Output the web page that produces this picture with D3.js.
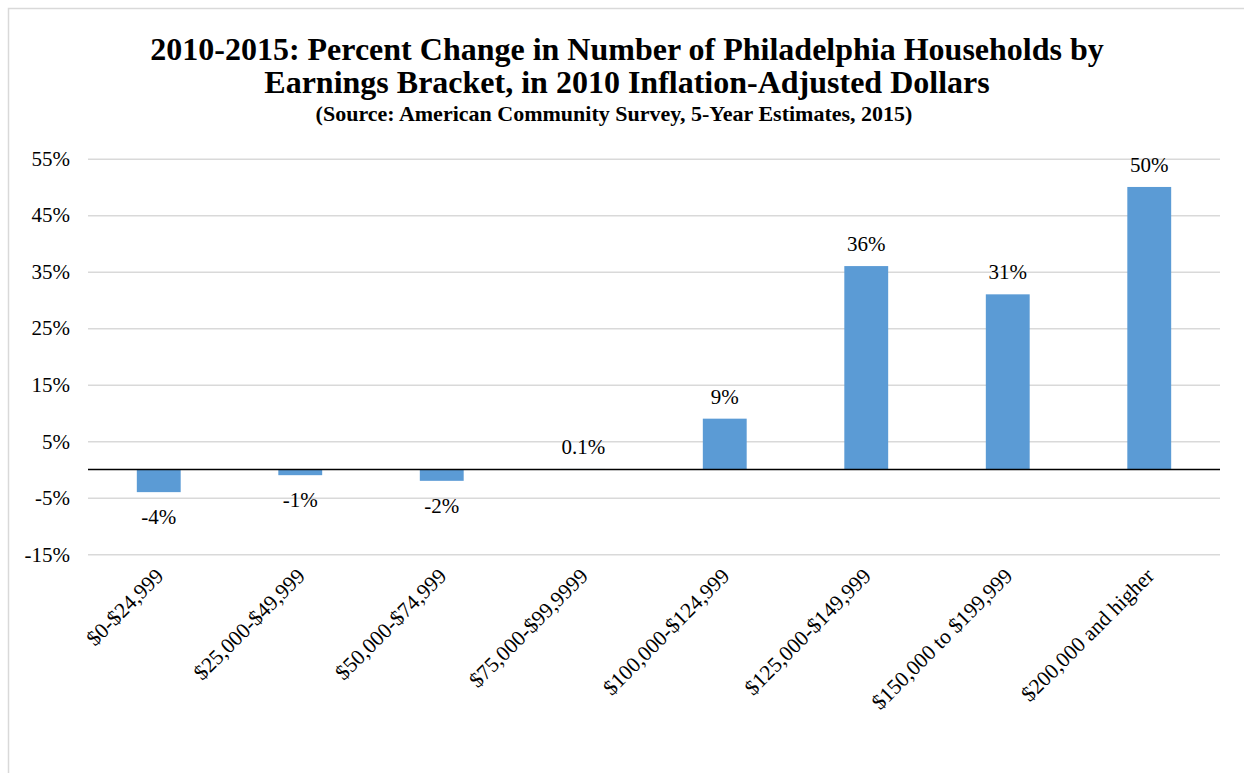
<!DOCTYPE html>
<html>
<head>
<meta charset="utf-8">
<script src="https://cdn.jsdelivr.net/npm/d3@7/dist/d3.min.js"></script>
<style>
  html, body { margin: 0; padding: 0; background: #fff; }
  svg text { font-family: "Liberation Serif", "Times New Roman", serif; fill: #000; }
</style>
</head>
<body>
<svg id="chart" width="1244" height="773"></svg>
<script>
// Income brackets and percent change in household counts, 2010-2015
const categories = [
  "$0-$24,999", "$25,000-$49,999", "$50,000-$74,999", "$75,000-$99,9999",
  "$100,000-$124,999", "$125,000-$149,999", "$150,000 to $199,999", "$200,000 and higher"
];
const values = [-4, -1, -2, 0.1, 9, 36, 31, 50];
const valueLabels = ["-4%", "-1%", "-2%", "0.1%", "9%", "36%", "31%", "50%"];
const yTicks = [-15, -5, 5, 15, 25, 35, 45, 55];
const titleLines = [
  "2010-2015: Percent Change in Number of Philadelphia Households by",
  "Earnings Bracket, in 2010 Inflation-Adjusted Dollars"
];
const subtitle = "(Source: American Community Survey, 5-Year Estimates, 2015)";

const svg = d3.select("#chart");
const W = 1244, H = 773;
const margin = { left: 88, right: 24 };
const plotW = W - margin.left - margin.right;
const FONT = '"Liberation Serif", "Times New Roman", serif';

// chart area frame
svg.append("rect")
  .attr("x", 8.5).attr("y", 8.5)
  .attr("width", W + 20).attr("height", H + 20)
  .attr("fill", "none").attr("stroke", "#d9d9d9").attr("stroke-width", 1.5);

const x = d3.scaleBand()
  .domain(categories)
  .range([margin.left, margin.left + plotW])
  .paddingInner(0.69).paddingOuter(0.345);

const y = d3.scaleLinear()
  .domain([-15, 55])
  .range([554.3, 158.7]);

// horizontal gridlines
const grid = svg.append("g")
  .attr("transform", `translate(${margin.left},0)`)
  .call(d3.axisLeft(y).tickValues(yTicks).tickSize(-plotW).tickFormat(""));
grid.select(".domain").remove();
grid.selectAll(".tick line").attr("stroke", "#d9d9d9").attr("stroke-width", 1.5);

// y-axis labels
const yAxis = svg.append("g")
  .attr("transform", `translate(${margin.left},0)`)
  .call(d3.axisLeft(y).tickValues(yTicks).tickSize(0).tickPadding(18).tickFormat(d => d + "%"));
yAxis.select(".domain").remove();
yAxis.selectAll("text")
  .attr("font-size", 21)
  .style("font-family", FONT);

// bars
svg.append("g").selectAll("rect")
  .data(values)
  .join("rect")
  .attr("x", (d, i) => x(categories[i]))
  .attr("width", x.bandwidth())
  .attr("y", d => y(Math.max(0, d)))
  .attr("height", d => Math.abs(y(d) - y(0)))
  .attr("fill", "#5b9bd5");

// zero line
svg.append("line")
  .attr("x1", margin.left).attr("x2", margin.left + plotW)
  .attr("y1", y(0)).attr("y2", y(0))
  .attr("stroke", "#000").attr("stroke-width", 1.5);

// value labels: above positive bars, below negative ones
svg.append("g").selectAll("text")
  .data(values)
  .join("text")
  .attr("x", (d, i) => x(categories[i]) + x.bandwidth() / 2)
  .attr("y", d => d >= 0 ? y(d) - 15 : y(d) + 32)
  .attr("text-anchor", "middle")
  .attr("font-size", 21)
  .text((d, i) => valueLabels[i]);

// x-axis labels, rotated
const xAxis = svg.append("g")
  .attr("transform", `translate(0,${y(-15)})`)
  .call(d3.axisBottom(x).tickSize(0).tickPadding(0));
xAxis.select(".domain").remove();
xAxis.selectAll("text")
  .attr("font-size", 21.5)
  .style("font-family", FONT)
  .attr("text-anchor", "end")
  .attr("dy", 0)
  .attr("transform", "translate(6,23) rotate(-45)");

// title
svg.append("g").selectAll("text")
  .data(titleLines)
  .join("text")
  .attr("x", 627)
  .attr("y", (d, i) => 60 + i * 33)
  .attr("text-anchor", "middle")
  .attr("font-size", 32)
  .attr("font-weight", "bold")
  .text(d => d);

svg.append("text")
  .attr("x", 614).attr("y", 121)
  .attr("text-anchor", "middle")
  .attr("font-size", 22)
  .attr("font-weight", "bold")
  .text(subtitle);
</script>
</body>
</html>
